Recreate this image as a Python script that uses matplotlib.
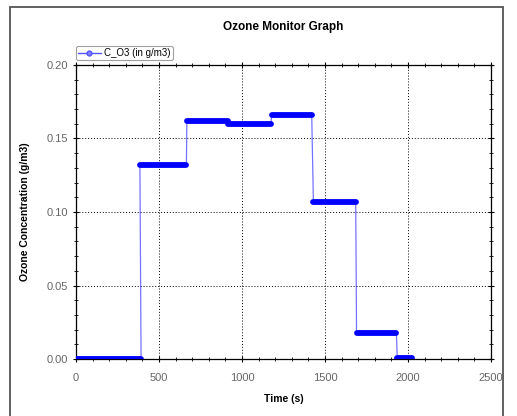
import matplotlib
matplotlib.use("Agg")
import matplotlib.pyplot as plt
from matplotlib.patches import Rectangle
from matplotlib.ticker import MultipleLocator

plt.rcParams["font.family"] = ["Liberation Sans", "DejaVu Sans"]

# ---------- data: step levels of ozone concentration ----------
level_start = [0, 385, 668, 918, 1178, 1430, 1690, 1935]
level_end = [392, 665, 915, 1175, 1420, 1685, 1930, 2025]
level_value = [0.000, 0.132, 0.162, 0.160, 0.166, 0.107, 0.018, 0.001]

LINE_BLUE = "#0000ff"

fig = plt.figure(figsize=(5.17, 4.16), dpi=100)
ax = fig.add_axes([76 / 517, 1 - 359 / 416, 415 / 517, 294 / 416])

# thin connecting line through all level end-points
xs, ys = [], []
for s, e, v in zip(level_start, level_end, level_value):
    xs += [s, e]
    ys += [v, v]
ax.plot(xs, ys, color=LINE_BLUE, lw=0.9, alpha=0.55, zorder=3)

# thick "marker" segments for each level
for s, e, v in zip(level_start, level_end, level_value):
    ax.plot([s, e], [v, v], color=LINE_BLUE, lw=4.2, solid_capstyle="round", zorder=4)

# legend proxy
ax.plot([], [], color="#5555ff", lw=1.0, marker="o", ms=3.5, mfc="#8080ff",
        mec="#5555ff", label="C_O3 (in g/m3)")

ax.set_xlim(0, 2500)
ax.set_ylim(0, 0.20)
ax.xaxis.set_major_locator(MultipleLocator(500))
ax.xaxis.set_minor_locator(MultipleLocator(100))
ax.yaxis.set_major_locator(MultipleLocator(0.05))
ax.yaxis.set_minor_locator(MultipleLocator(0.01))
ax.yaxis.set_major_formatter(plt.FuncFormatter(lambda v, p: f"{v:.2f}"))

ax.grid(True, which="major", color="black", ls=(0, (1, 2)), lw=0.7)
ax.tick_params(which="both", direction="inout", top=True, right=True,
               color="black", labelcolor="#666666", labelsize=8)
ax.tick_params(which="major", length=4, width=0.8)
ax.tick_params(which="minor", length=2.5, width=0.6)
ax.tick_params(axis="x", pad=8)
for sp in ax.spines.values():
    sp.set_color("black")
    sp.set_linewidth(0.9)

ax.set_title("Ozone Monitor Graph", fontsize=8.5, fontweight="bold", pad=25)
ax.set_xlabel("Time (s)", fontsize=7.5, fontweight="bold", labelpad=8)
ax.set_ylabel("Ozone Concentration (g/m3)", fontsize=7.5, fontweight="bold", labelpad=12)

leg = ax.legend(loc="lower left", bbox_to_anchor=(-0.005, 1.01), fontsize=7,
                frameon=True, fancybox=True, edgecolor="#888888", borderpad=0.2,
                handlelength=2.4, handletextpad=0.3, borderaxespad=0.2)
leg.get_frame().set_linewidth(0.8)

# outer frame around the figure
fig.patches.append(Rectangle((10 / 517, -0.01), 493 / 517, 1 - 7 / 416 + 0.01,
                             transform=fig.transFigure, fill=False,
                             edgecolor="#555555", lw=1.3))

fig.savefig("out.png", dpi=100)
